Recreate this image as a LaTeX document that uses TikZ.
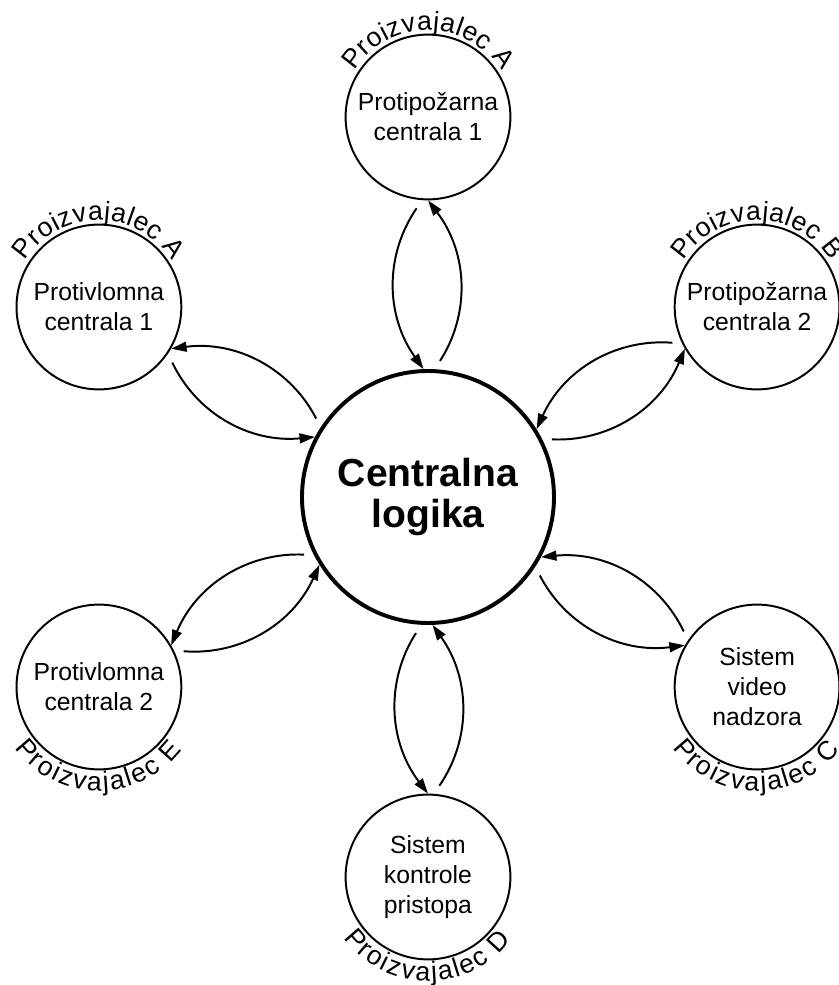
\documentclass[tikz,border=0pt]{standalone}
\usepackage{fontspec}
\setmainfont{Liberation Sans}
\usetikzlibrary{arrows.meta, decorations.text}

\begin{document}
\begin{tikzpicture}[
    unit/.style={draw, circle, line width=1.4pt, minimum size=4.12cm,
                 inner sep=0pt, align=center,
                 font=\fontsize{17.6}{21.3}\selectfont},
    logic/.style={draw, circle, line width=2.8pt, minimum size=6.3cm,
                  inner sep=0pt, align=center,
                  font=\fontsize{27.8}{29.5}\selectfont\bfseries},
    link/.style={-{Triangle[length=11pt, width=7pt]}, line width=1.4pt,
                 bend right=35, shorten <=7pt},
    maker/.style={decorate, decoration={text along path,
                  text align={fit to path},
                  text={|\fontsize{19}{19}\selectfont|#1}}}
]
\useasboundingbox (-10.7,12.425) rectangle (10.25,-12.2);

%% Central logic
\node[logic] (logic) at (0, 0) {Centralna\\logika};

%% Subsystems around it
\node[unit] (fire1) at (0, 9.5) {Protipožarna\\centrala 1};
\node[unit] (intr1) at (-8.227, 4.75) {Protivlomna\\centrala 1};
\node[unit] (fire2) at (8.227, 4.75) {Protipožarna\\centrala 2};
\node[unit] (intr2) at (-8.227, -4.75) {Protivlomna\\centrala 2};
\node[unit] (cctv) at (8.227, -4.75) {Sistem\\video\\nadzora};
\node[unit] (acc) at (0, -9.5) {Sistem\\kontrole\\pristopa};

%% Manufacturer labels
\path[maker=Proizvajalec A] (fire1.center) ++(148:2.17) arc[start angle=148, end angle=32, radius=2.17];
\path[maker=Proizvajalec A] (intr1.center) ++(148:2.17) arc[start angle=148, end angle=32, radius=2.17];
\path[maker=Proizvajalec B] (fire2.center) ++(148:2.17) arc[start angle=148, end angle=32, radius=2.17];
\path[maker=Proizvajalec E] (intr2.center) ++(216:2.6) arc[start angle=216, end angle=323, radius=2.6];
\path[maker=Proizvajalec C] (cctv.center) ++(216:2.6) arc[start angle=216, end angle=323, radius=2.6];
\path[maker=Proizvajalec D] (acc.center) ++(216:2.6) arc[start angle=216, end angle=323, radius=2.6];

%% Two-way links
\draw[link] (fire1.266) to (logic.92);
\draw[link] (logic.87) to (fire1.270);
\draw[link] (intr1.326) to (logic.152);
\draw[link] (logic.147) to (intr1.330);
\draw[link] (fire2.206) to (logic.32);
\draw[link] (logic.27) to (fire2.210);
\draw[link] (intr2.26) to (logic.212);
\draw[link] (logic.207) to (intr2.30);
\draw[link] (cctv.146) to (logic.332);
\draw[link] (logic.327) to (cctv.150);
\draw[link] (acc.86) to (logic.272);
\draw[link] (logic.267) to (acc.90);
\end{tikzpicture}
\end{document}
